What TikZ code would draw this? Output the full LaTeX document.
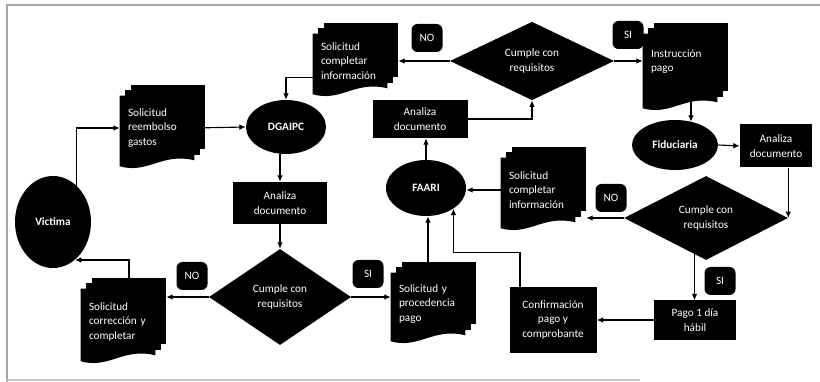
\documentclass[tikz,border=0pt]{standalone}
\usepackage{fontspec}
\setmainfont{Carlito}
\usepackage{tikz}
\usetikzlibrary{
    arrows.meta,
    positioning,
    shapes.geometric,
    calc
}
\pgfdeclarelayer{background}
\pgfsetlayers{background,main}

% stacked pages behind a doc node
\newcommand{\multidoc}[1]{%
  \begin{pgfonlayer}{background}
    \fill ([xshift=2.8mm,yshift=2.8mm]#1.north west) rectangle ([xshift=2.8mm,yshift=2.8mm]#1.south east);
    \fill ([xshift=1.4mm,yshift=1.4mm]#1.north west) rectangle ([xshift=1.4mm,yshift=1.4mm]#1.south east);
    \fill (#1.north west) -- ([yshift=-1.5mm]#1.south west)
      .. controls ([xshift=7mm,yshift=-3.5mm]#1.south west) and ([xshift=-8mm,yshift=2mm]#1.south east) .. (#1.south east)
      -- (#1.north east) -- cycle;
  \end{pgfonlayer}}

\begin{document}
\begin{tikzpicture}[
    x=0.25mm, y=-0.25mm,
    every node/.style={font=\fontsize{8}{10.5}\selectfont},
    doc/.style={
        text=white,
        align=left,
        text width=14.5mm,
        inner xsep=2mm,
        inner ysep=0pt
    },
    oval/.style={
        ellipse,
        fill=black,
        text=white,
        font=\fontsize{8}{10.5}\selectfont\bfseries,
        inner sep=0pt
    },
    box/.style={
        rectangle,
        fill=black,
        text=white,
        align=center,
        inner sep=1pt
    },
    decision/.style={
        diamond,
        fill=black,
        text=white,
        align=center,
        inner sep=0pt
    },
    tag/.style={
        rectangle,
        rounded corners=1.5mm,
        fill=black,
        text=white,
        minimum width=7.75mm,
        minimum height=7mm,
        inner sep=0pt
    },
    arrow/.style={-{Latex[length=1.6mm,width=1.4mm]},line width=0.8pt}
]
\useasboundingbox (0,0) rectangle (820,382);

% frame
\draw[gray!70, line width=1pt] (820,5) -- (7,5) -- (7,382);
\draw[gray!45, line width=0.8pt] (7,380) -- (640,380);

\node[oval, minimum width=19mm, minimum height=23mm] (victima) at (53,222) {Victima};
\node[doc, minimum height=16mm] (reembolso) at (157,128) {Solicitud\\reembolso\\gastos};
\node[oval, minimum width=20mm, minimum height=13.5mm] (dgaipc) at (286,127) {DGAIPC};
\node[doc, minimum height=13.5mm] (completar1) at (350,61) {Solicitud\\completar\\información};
\node[box, minimum width=23.5mm, minimum height=10.5mm] (analiza1) at (280,203) {Analiza\\documento};
\node[decision, minimum width=35.5mm, minimum height=24mm] (cumple1) at (280,297) {Cumple con\\requisitos};
\node[tag] (no1) at (192,276) {NO};
\node[doc, minimum height=16.5mm] (correccion) at (118,322) {Solicitud\\corrección y\\completar};
\node[tag] (si1) at (368,274) {SI};
\node[doc, minimum height=15.5mm] (procedencia) at (428,304) {Solicitud y\\procedencia\\pago};
\node[oval, minimum width=20mm, minimum height=14mm] (faari) at (426,188) {FAARI};
\node[box, minimum width=23.75mm, minimum height=9.5mm] (analiza2) at (420,119) {Analiza\\documento};
\node[decision, minimum width=41mm, minimum height=18.5mm] (cumple2) at (532,61) {Cumple con\\requisitos};
\node[tag] (no2) at (427,38) {NO};
\node[tag] (si2) at (628,35) {SI};
\node[doc, minimum height=17mm] (instruccion) at (680,68) {Instrucción\\pago\\\mbox{}};
\node[oval, minimum width=21.5mm, minimum height=12.5mm] (fiduciaria) at (675,145) {Fiduciaria};
\node[box, minimum width=18mm, minimum height=10.75mm] (analiza3) at (776,146) {Analiza\\documento};
\node[decision, minimum width=41mm, minimum height=21mm] (cumple3) at (706,218) {Cumple con\\requisitos};
\node[tag] (no3) at (611,198) {NO};
\node[doc, minimum height=16mm] (completar2) at (538,190) {Solicitud\\completar\\información};
\node[tag] (si3) at (720,281) {SI};
\node[box, minimum width=20.5mm, minimum height=9.75mm] (pago) at (695,320) {Pago 1 día\\hábil};
\node[box, minimum width=21.75mm, minimum height=16.25mm] (conf) at (553,320) {Confirmación\\pago y\\comprobante};

\multidoc{reembolso}
\multidoc{completar1}
\multidoc{correccion}
\multidoc{procedencia}
\multidoc{instruccion}
\multidoc{completar2}

\coordinate (fidtop) at ($(fiduciaria.north)+(16,2)$);
\coordinate (c3s) at ($(cumple3.south)!0.14!(cumple3.west)$);

\draw[arrow] (victima.57) |- (reembolso.west);
\draw[arrow] (reembolso.east) -- (dgaipc.west);
\draw[arrow] ($(completar1.west)!0.6!(completar1.south west)$) -| (dgaipc.north);
\draw[arrow] (analiza1.north |- dgaipc.south) -- (analiza1.north);
\draw[arrow] (analiza1.south) -- (cumple1.north);
\draw[arrow] (cumple1.west) -- ($(cumple1.west -| correccion.east)+(11,0)$);
\draw[arrow] (correccion.north) ++(11,0) |- (victima.-60);
\draw[arrow] (cumple1.east) -- (cumple1.east -| procedencia.west);
\draw[arrow] (procedencia.north) -- (procedencia.north |- faari.south);
\draw[arrow] (faari.north) -- (faari.north |- analiza2.south);
\draw[arrow] (analiza2.east) -| (cumple2.south);
\draw[arrow] (cumple2.west) -- ($(cumple2.west -| completar1.east)+(11,0)$);
\draw[arrow] (cumple2.east) -- (cumple2.east -| instruccion.west);
\draw[arrow] (instruccion.south -| fidtop) -- (fidtop);
\draw[arrow] (fiduciaria.east) -- (analiza3.west);
\draw[arrow] (cumple3.east |- analiza3.south) -- (cumple3.east);
\draw[arrow] (cumple3.west) -- ($(cumple3.west -| completar2.east)+(11,0)$);
\draw[arrow] (completar2.west) -- (completar2.west -| faari.east);
\draw[arrow] (c3s) -- (c3s |- pago.north);
\draw[arrow] (pago.west) -- (conf.east);
\draw[arrow] (conf.north) ++(-33,0) -- ++(0,-35) -| (faari.-37);

\end{tikzpicture}
\end{document}
